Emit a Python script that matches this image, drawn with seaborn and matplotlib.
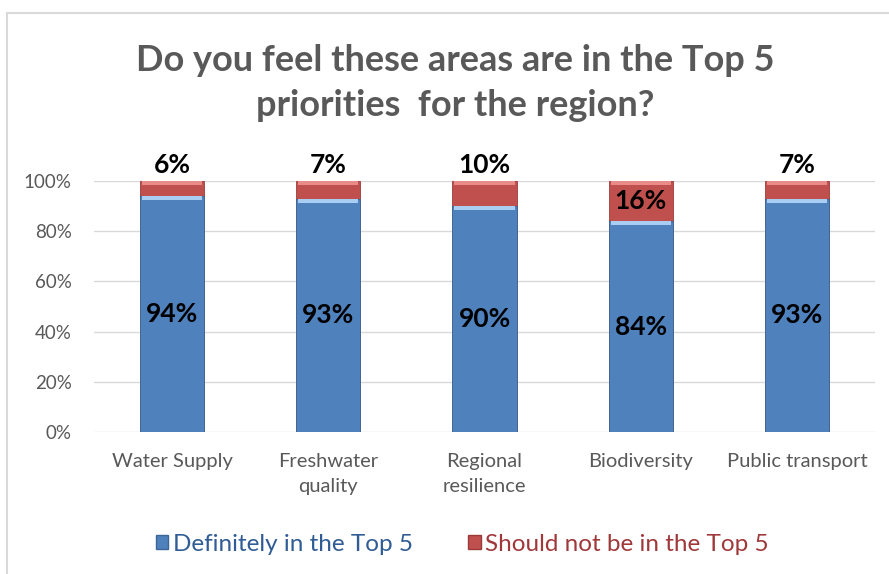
import matplotlib
matplotlib.use("Agg")
import matplotlib.pyplot as plt
import seaborn as sns
import pandas as pd
from matplotlib.patches import Rectangle
from matplotlib.lines import Line2D

categories = ["Water Supply", "Freshwater\nquality", "Regional\nresilience",
              "Biodiversity", "Public transport"]
definitely = [94, 93, 90, 84, 93]
should_not = [6, 7, 10, 16, 7]
y_ticks = [0, 20, 40, 60, 80, 100]

title = "Do you feel these areas are in the Top 5\npriorities  for the region?"
legend_labels = ["Definitely in the Top 5", "Should not be in the Top 5"]

blue = "#4F81BD"
blue_light = "#A9CDF3"
red = "#C0504D"
red_light = "#E98B88"
grey_text = "#595959"

sns.set_theme(style="white")
plt.rcParams["font.family"] = ["Lato", "DejaVu Sans"]

df = pd.DataFrame({
    "category": categories,
    "definitely": definitely,
    "should_not": should_not,
})
df["total"] = df["definitely"] + df["should_not"]

fig = plt.figure(figsize=(8.89, 5.74), dpi=100)
ax = fig.add_axes([0.1057, 0.2474, 0.8786, 0.4373])

# outer chart frame (top and left edges)
fig.add_artist(Line2D([0.0075, 0.0075], [0.0, 0.977], color="#D9D9D9", lw=1.5,
                      transform=fig.transFigure))
fig.add_artist(Line2D([0.0075, 1.0], [0.977, 0.977], color="#D9D9D9", lw=1.5,
                      transform=fig.transFigure))

width = 0.41
sns.barplot(data=df, x="category", y="total", color=red, width=width,
            saturation=1, ax=ax, edgecolor="#9B3B39", linewidth=0.6, zorder=3)
sns.barplot(data=df, x="category", y="definitely", color=blue, width=width,
            saturation=1, ax=ax, edgecolor="#3C6696", linewidth=0.6, zorder=4)

# bevel highlight at the top of each segment
for i, (d, s) in enumerate(zip(definitely, should_not)):
    for top, col in ((d, blue_light), (d + s, red_light)):
        ax.add_patch(Rectangle((i - width / 2 + 0.012, top - 1.6), width - 0.024, 1.6,
                               facecolor=col, edgecolor="none", zorder=5))

# value labels
for i, (d, s) in enumerate(zip(definitely, should_not)):
    ax.text(i, d / 2, f"{d}%", ha="center", va="center", fontsize=19,
            fontweight="bold", color="black", zorder=6)
    if s >= 12:
        ax.text(i, d + s / 2, f"{s}%", ha="center", va="center", fontsize=19,
                fontweight="bold", color="black", zorder=6)
    else:
        ax.text(i, d + s + 1.5, f"{s}%", ha="center", va="bottom", fontsize=19,
                fontweight="bold", color="black", zorder=6)

ax.set_ylim(0, 100)
ax.set_xlim(-0.5, len(categories) - 0.5)
ax.set_yticks(y_ticks)
ax.set_yticklabels([f"{t}%" for t in y_ticks])
ax.yaxis.grid(True, color="#D9D9D9", lw=1, zorder=0)
ax.set_axisbelow(True)
for sp in ax.spines.values():
    sp.set_visible(False)
ax.set_xlabel("")
ax.set_ylabel("")
ax.tick_params(axis="y", length=0, pad=16, labelsize=13.5, labelcolor=grey_text)
ax.tick_params(axis="x", length=0, pad=15, labelsize=14.5, labelcolor=grey_text)
ax.set_xticks(range(len(categories)))
ax.set_xticklabels(categories, linespacing=1.55)

fig.text(0.512, 0.855, title, ha="center", va="center", fontsize=26,
         fontweight="bold", color=grey_text, linespacing=1.45)

handles = [Rectangle((0, 0), 1, 1, facecolor=blue, edgecolor="#3C6696"),
           Rectangle((0, 0), 1, 1, facecolor=red, edgecolor="#9B3B39")]
leg = fig.legend(handles, legend_labels, loc="center", bbox_to_anchor=(0.52, 0.052),
                 ncol=2, frameon=False, fontsize=17.5, handlelength=0.5,
                 handleheight=0.5, handletextpad=0.2, columnspacing=2.3)
leg.get_texts()[0].set_color("#2F5C95")
leg.get_texts()[1].set_color("#A0383A")

fig.savefig("out.png", dpi=100)
